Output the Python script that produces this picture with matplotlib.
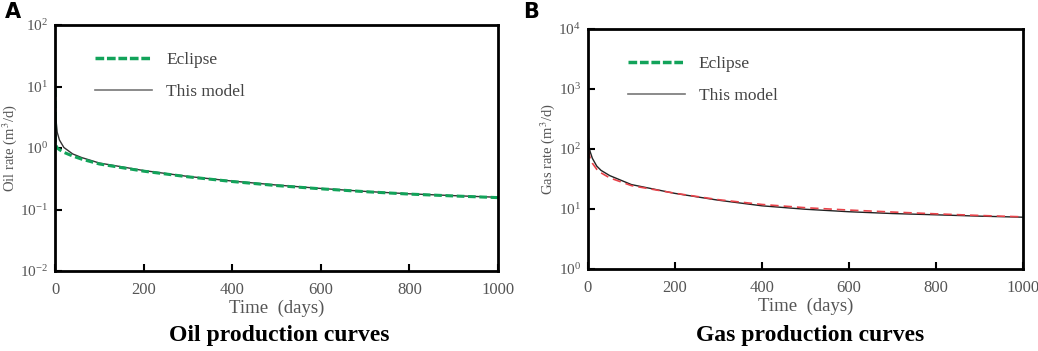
import matplotlib
matplotlib.use('Agg')
import matplotlib.pyplot as plt
from matplotlib.lines import Line2D
import numpy as np

# oil production (m3/d)
oil_t_model = [0.3, 1, 2, 5, 10, 20, 40, 60, 100, 200, 300, 400, 500, 600, 700, 800, 900, 1000]
oil_model = [9.0, 5.0, 3.0, 1.8, 1.35, 1.02, 0.8, 0.7, 0.57, 0.43, 0.345, 0.29, 0.25, 0.22, 0.197, 0.18, 0.168, 0.158]
oil_t_ecl = [0.3, 1, 5, 10, 20, 40, 60, 100, 200, 300, 400, 500, 600, 700, 800, 900, 1000]
oil_ecl = [9.0, 1.15, 1.0, 0.94, 0.85, 0.74, 0.66, 0.55, 0.42, 0.34, 0.285, 0.245, 0.217, 0.195, 0.178, 0.166, 0.156]

# gas production (m3/d)
gas_t_model = [0.3, 1, 3, 5, 10, 20, 30, 50, 100, 200, 300, 400, 500, 600, 700, 800, 900, 1000]
gas_model = [220, 150, 105, 90, 70, 52, 44, 36, 25.5, 18.2, 14.0, 11.3, 9.9, 9.0, 8.4, 8.0, 7.6, 7.3]
gas_t_ecl = [1, 3, 5, 10, 20, 30, 50, 100, 200, 300, 400, 500, 600, 700, 800, 900, 1000]
gas_ecl = [95, 80, 70, 58, 46, 40, 33, 24.5, 18.3, 14.3, 11.9, 10.5, 9.6, 8.9, 8.3, 7.8, 7.4]

plt.rcParams['font.family'] = ['Liberation Serif', 'DejaVu Serif']
plt.rcParams['mathtext.fontset'] = 'stix'

fig = plt.figure(figsize=(10.38, 3.51), dpi=100)
W, H = 1038., 351.

def make_ax(box, ylo, yhi, ylab):
    x0, y0, x1, y1 = box
    ax = fig.add_axes([x0 / W, 1 - y1 / H, (x1 - x0) / W, (y1 - y0) / H])
    ax.set_yscale('log')
    ax.set_xlim(0, 1000)
    ax.set_ylim(ylo, yhi)
    ax.set_xticks([0, 200, 400, 600, 800, 1000])
    ax.yaxis.set_minor_locator(matplotlib.ticker.NullLocator())
    ax.tick_params(direction='in', length=5, width=1.5,
                   labelcolor='#555555', top=False, right=False)
    ax.tick_params(axis='x', pad=8, labelsize=12)
    ax.tick_params(axis='y', pad=5, labelsize=11)
    for s in ax.spines.values():
        s.set_linewidth(2)
    ax.set_xlabel('Time  (days)', fontsize=13.5, color='#555555', labelpad=1)
    ax.set_ylabel(ylab, fontsize=10.5, color='#555555', labelpad=1)
    return ax

ax1 = make_ax((55, 25, 498, 271), 1e-2, 1e2, 'Oil rate (m$^3$/d)')
ax1.plot(oil_t_model, oil_model, color='#333333', lw=1.0)
ax1.plot(oil_t_ecl, oil_ecl, color='#12a35a', lw=2.2, ls=(0, (2.5, 1.2)))

ax2 = make_ax((588, 29, 1023, 269), 1e0, 1e4, 'Gas rate (m$^3$/d)')
ax2.plot(gas_t_model, gas_model, color='#222222', lw=1.0)
ax2.plot(gas_t_ecl, gas_ecl, color='#e8434a', lw=1.2, ls=(0, (5, 3)))

handles = [Line2D([], [], color='#12a35a', lw=2.5, ls=(0, (2.5, 0.8))),
           Line2D([], [], color='#777777', lw=1.2)]
for ax in (ax1, ax2):
    ax.legend(handles, ['Eclipse', 'This model'], loc='upper left',
              bbox_to_anchor=(0.055, 0.955), frameon=False, fontsize=12.5,
              handlelength=3.3, handletextpad=0.8, labelspacing=0.95,
              labelcolor='#444444')

fig.text(5 / W, 1 - 12 / H, 'A', fontsize=15, fontweight='bold',
         family='DejaVu Sans', va='center')
fig.text(523 / W, 1 - 12 / H, 'B', fontsize=15, fontweight='bold',
         family='DejaVu Sans', va='center')
fig.text(279 / W, 1 - 335 / H, 'Oil production curves', fontsize=17,
         fontweight='bold', ha='center', va='center')
fig.text(810 / W, 1 - 335 / H, 'Gas production curves', fontsize=17,
         fontweight='bold', ha='center', va='center')

fig.savefig('out.png', dpi=100)
